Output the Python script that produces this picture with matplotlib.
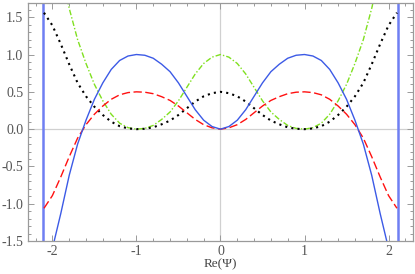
import numpy as np
import matplotlib
import matplotlib.pyplot as plt
from matplotlib.ticker import MultipleLocator, FuncFormatter
matplotlib.use('agg')

# Re(Psi) sample points
psi = [-2.1, -2.0, -1.9, -1.8, -1.7, -1.6, -1.5, -1.4, -1.3, -1.2, -1.1,
       -1.0, -0.9, -0.8, -0.7, -0.6, -0.5, -0.4, -0.3, -0.2, -0.1,
       0.0, 0.1, 0.2, 0.3, 0.4, 0.5, 0.6, 0.7, 0.8, 0.9,
       1.0, 1.1, 1.2, 1.3, 1.4, 1.5, 1.6, 1.7, 1.8, 1.9, 2.0, 2.1]

blue_vals = [-2.1, -1.6, -1.13, -0.62, -0.20, 0.12, 0.40, 0.62, 0.80, 0.92, 0.98,
             1.0, 0.99, 0.95, 0.87, 0.77, 0.62, 0.44, 0.26, 0.12, 0.035,
             0.0, 0.035, 0.12, 0.26, 0.44, 0.62, 0.77, 0.87, 0.95, 0.99,
             1.0, 0.98, 0.92, 0.80, 0.62, 0.40, 0.12, -0.20, -0.62, -1.13, -1.6, -2.1]

red_vals = [-1.06, -0.89, -0.64, -0.37, -0.12, 0.06, 0.20, 0.31, 0.40, 0.46, 0.49,
            0.5, 0.495, 0.475, 0.435, 0.385, 0.31, 0.22, 0.13, 0.06, 0.018,
            0.0, 0.018, 0.06, 0.13, 0.22, 0.31, 0.385, 0.435, 0.475, 0.495,
            0.5, 0.49, 0.46, 0.40, 0.31, 0.20, 0.06, -0.12, -0.37, -0.64, -0.89, -1.06]

green_vals = [3.1, 2.6, 2.13, 1.62, 1.2, 0.88, 0.60, 0.38, 0.20, 0.08, 0.02,
              0.0, 0.01, 0.05, 0.13, 0.23, 0.38, 0.56, 0.74, 0.88, 0.965,
              1.0, 0.965, 0.88, 0.74, 0.56, 0.38, 0.23, 0.13, 0.05, 0.01,
              0.0, 0.02, 0.08, 0.20, 0.38, 0.60, 0.88, 1.2, 1.62, 2.13, 2.6, 3.1]

black_vals = [1.56, 1.39, 1.14, 0.87, 0.62, 0.44, 0.30, 0.19, 0.10, 0.04, 0.01,
              0.0, 0.005, 0.025, 0.065, 0.115, 0.19, 0.28, 0.37, 0.44, 0.482,
              0.5, 0.482, 0.44, 0.37, 0.28, 0.19, 0.115, 0.065, 0.025, 0.005,
              0.0, 0.01, 0.04, 0.10, 0.19, 0.30, 0.44, 0.62, 0.87, 1.14, 1.39, 1.56]

wall_x = [-2.11, 2.11]

fig = plt.figure(figsize=(4.15, 2.74), dpi=100)
ax = fig.add_axes([0.0675, 0.12, 0.9275, 0.869])

gray = '#9a9a9a'
ax.axhline(0, color='#d0d0d0', lw=0.9, zorder=0)
ax.axvline(0, color='#d0d0d0', lw=0.9, zorder=0)

for wx in wall_x:
    ax.axvline(wx, color='#6f7ff2', lw=1.8, zorder=1)

ax.plot(psi, green_vals, color='#80e020', lw=1.0, dashes=[4, 1.5, 1, 1.5])
ax.plot(psi, black_vals, color='black', lw=1.5, dashes=[1, 2])
ax.plot(psi, red_vals, color='#ff1010', lw=1.0, dashes=[6, 2.5])
ax.plot(psi, blue_vals, color='#3c5ae6', lw=1.0)

ax.set_xlim(-2.29, 2.29)
ax.set_ylim(-1.5, 1.69)

ax.xaxis.set_major_locator(MultipleLocator(1))
ax.xaxis.set_minor_locator(MultipleLocator(0.2))
ax.yaxis.set_major_locator(MultipleLocator(0.5))
ax.yaxis.set_minor_locator(MultipleLocator(0.1))
ax.xaxis.set_major_formatter(FuncFormatter(lambda v, p: '%d' % round(v)))
ax.yaxis.set_major_formatter(FuncFormatter(lambda v, p: '%.1f' % v))

for s in ax.spines.values():
    s.set_color(gray)
    s.set_linewidth(0.9)

ax.tick_params(which='both', direction='in', top=True, right=True, color=gray,
               labelcolor='#555555', labelsize=10, width=0.7)
ax.tick_params(which='major', length=4)
ax.tick_params(which='minor', length=2)
ax.tick_params(axis='x', pad=3)
for lab in ax.get_xticklabels() + ax.get_yticklabels():
    lab.set_family('Liberation Serif')

ax.set_xlabel('Re(\u03a8)', family='Liberation Serif', fontsize=9.5, color='#444444',
              labelpad=0)

plt.savefig('out.png', dpi=100)
